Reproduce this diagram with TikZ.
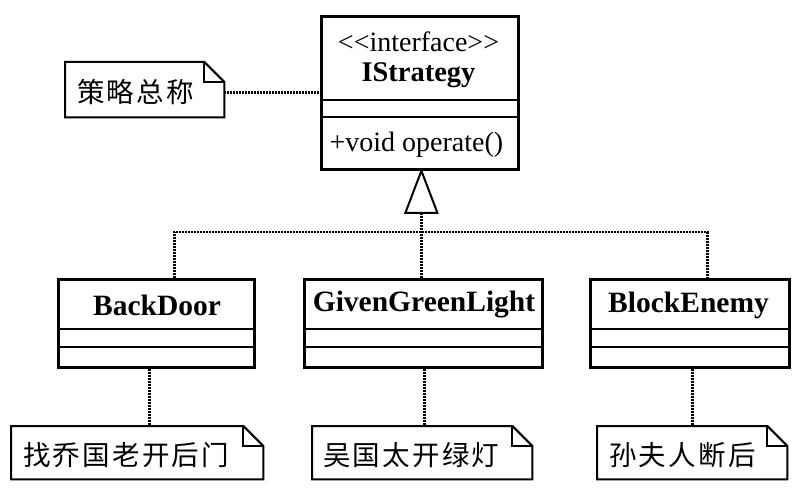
\documentclass[tikz,border=0pt]{standalone}
\usepackage{fontspec}
\setmainfont{Liberation Serif}
\newfontfamily\cjk[LetterSpace=8]{Noto Sans CJK SC}
\usetikzlibrary{calc}
\begin{document}
\begin{tikzpicture}[x=1pt,y=-1pt,
  cls/.style={draw, line width=2.8pt, inner sep=0pt, anchor=north west},
  sepline/.style={line width=2.8pt},
  dots/.style={line width=2.5pt, dash pattern=on 1.8pt off 1.2pt},
  notebox/.style={inner sep=0pt, anchor=north west, minimum height=53pt},
  noteline/.style={line width=2pt, line join=miter},
  clsname/.style={font=\fontsize{29.5}{31}\selectfont\bfseries},
  txt/.style={font=\fontsize{28}{30}\selectfont},
  cjktxt/.style={font=\fontsize{27.5}{30}\selectfont\cjk, anchor=west, inner sep=0pt},
  tri/.style={line width=2pt, fill=white, line join=miter}
]
\useasboundingbox (0,0) rectangle (800,502);

% interface class
\node[cls, minimum width=197pt, minimum height=153pt] (is) at (320,15) {};
\draw[sepline] ([yshift=-85pt]is.north west) -- ([yshift=-85pt]is.north east);
\draw[sepline] ([yshift=-102pt]is.north west) -- ([yshift=-102pt]is.north east);
\node[txt] (ist) at (418.5,42) {<\kern0pt<\kern0pt interface>\kern0pt>};
\node[clsname, font=\fontsize{28.5}{30}\selectfont\bfseries] (isn) at (418.5,75) {IStrategy};
\node[txt, anchor=west] (iso) at (326,145) {+void operate()};

% concrete classes
\node[cls, minimum width=196pt, minimum height=88pt] (bd) at (57,278) {};
\node[cls, minimum width=238pt, minimum height=88pt] (gg) at (303,278) {};
\node[cls, minimum width=199pt, minimum height=88pt] (be) at (589,278) {};
\foreach \c in {bd,gg,be}{
  \draw[sepline] ([yshift=-51pt]\c.north west) -- ([yshift=-51pt]\c.north east);
  \draw[sepline] ([yshift=-69pt]\c.north west) -- ([yshift=-69pt]\c.north east);
}
\node[clsname] (bdn) at (157,305) {BackDoor};
\node[clsname] (ggn) at (424,305) {GivenGreenLight};
\node[clsname] (ben) at (688.5,305) {BlockEnemy};

% notes
\node[notebox, minimum width=159pt, minimum height=55pt] (n0) at (65,62) {};
\node[notebox, minimum width=252pt] (n1) at (11,426) {};
\node[notebox, minimum width=220pt] (n2) at (312,426) {};
\node[notebox, minimum width=190pt] (n3) at (597,426) {};
\foreach \n in {n0,n1,n2,n3}{
  \draw[noteline] (\n.north west) -- ([xshift=-20pt]\n.north east) -- ([yshift=-20pt]\n.north east) -- (\n.south east) -- (\n.south west) -- cycle;
  \draw[noteline] ([xshift=-20pt]\n.north east) |- ([yshift=-20pt]\n.north east);
}
\node[cjktxt] (n0t) at ([xshift=12pt,yshift=-2pt]n0.west) {策略总称};
\node[cjktxt] (n1t) at ([xshift=12pt,yshift=-2pt]n1.west) {找乔国老开后门};
\node[cjktxt] (n2t) at ([xshift=11pt,yshift=-2pt]n2.west) {吴国太开绿灯};
\node[cjktxt] (n3t) at ([xshift=12pt,yshift=-2pt]n3.west) {孙夫人断后};

% note connectors
\draw[dots] ([yshift=-3pt]n0.east) -- ([yshift=-3pt]is.west |- n0.east);
\draw[dots] ([xshift=-7pt]bd.south) -- ([xshift=-7pt]bd.south |- n1.north);
\draw[dots] ([xshift=1pt]gg.south) -- ([xshift=1pt]gg.south |- n2.north);
\draw[dots] ([xshift=2.5pt]be.south) -- ([xshift=2.5pt]be.south |- n3.north);

% realization
\coordinate (bar) at (0,232);
\coordinate (tb) at ([xshift=1.5pt,yshift=-42pt]is.south);
\draw[dots] (tb) -- (tb |- gg.north);
\draw[dots] ([xshift=18pt]bd.north) |- ([xshift=17.5pt]be.north |- bar) -- ([xshift=17.5pt]be.north);
\draw[tri] ([xshift=1.5pt]is.south) -- ([xshift=-16pt]tb) -- ([xshift=16pt]tb) -- cycle;
\end{tikzpicture}
\end{document}
